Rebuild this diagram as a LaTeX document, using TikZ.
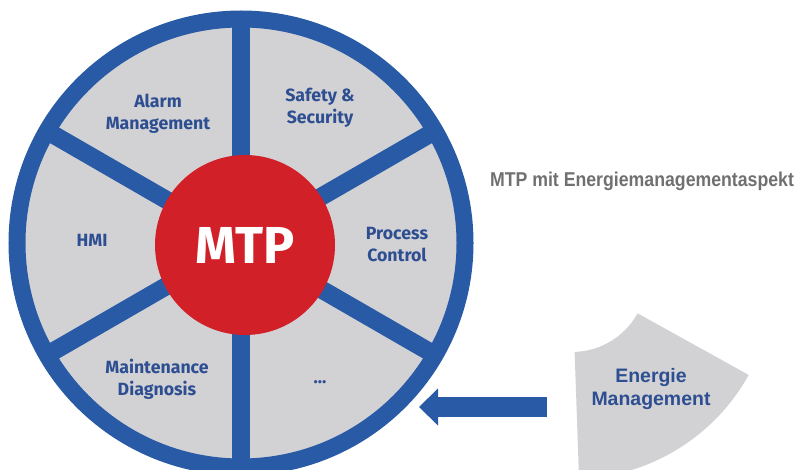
\documentclass[tikz,border=0pt]{standalone}
\usepackage{fontspec}
\usepackage{graphicx}
\setmainfont{Fira Sans}
\newfontfamily\arialfont{Liberation Sans}
\usetikzlibrary{arrows.meta}

\definecolor{mtpblue}{RGB}{40,90,165}
\definecolor{mtptext}{RGB}{45,78,145}
\definecolor{mtpred}{RGB}{210,32,40}
\definecolor{segmentgray}{RGB}{210,210,212}
\definecolor{titlegray}{RGB}{112,112,112}

\begin{document}
\begin{tikzpicture}[x=0.75pt,y=0.75pt,yscale=-1,xscale=1,
  spoke/.style={draw=mtpblue, line width=13.5pt},
  ring/.style={draw=mtpblue, line width=12.75pt},
  segtext/.style={text=mtptext, align=center, font=\bfseries\fontsize{13.3}{16.5}\selectfont},
  hub/.style={circle, fill=mtpred, text=white, inner sep=0pt, minimum size=135pt, font=\bfseries\fontsize{39}{39}\selectfont},
  pfeil/.style={draw=mtpblue, line width=15pt, -{Triangle[length=14.25pt, width=27.75pt, line width=0pt]}}]
\useasboundingbox (0,0) rectangle (798,470);
\clip (0,0) rectangle (798,470);

%Shape: Wheel
\coordinate (mitte) at (241,243);
\fill[segmentgray] (mitte) circle (224);
\foreach \a in {30,90,...,330}
  \draw[spoke] (mitte) -- ++(\a:224);
\draw[ring] (mitte) circle (224);

%Shape: Hub
\node[hub] (mtp) at (245,245) {MTP};

% Text Node
\node[segtext] (alarm) at (158,114) {Alarm\\Management};
% Text Node
\node[segtext] (safety) at (320,108) {Safety \&\\Security};
% Text Node
\node[segtext] (hmi) at (92,240) {HMI};
% Text Node
\node[segtext] (process) at (397,245) {Process\\Control};
% Text Node
\node[segtext] (maint) at (157,379) {Maintenance\\Diagnosis};
% Text Node
\node[segtext] (weitere) at (320,382) {...};

%Shape: Energy segment
\coordinate (ez) at (572,277);
\fill[segmentgray] ([shift={(29:75)}]ez) arc[start angle=29, end angle=88, radius=75]
  -- ([shift={(88:202)}]ez) arc[start angle=88, end angle=29, radius=202] -- cycle;

% Text Node
\node[text=mtptext, align=center, font=\arialfont\bfseries\fontsize{14.6}{17.3}\selectfont] (energie) at (651,389) {Energie\\Management};

% Text Node
\node[text=titlegray, font=\arialfont\bfseries\fontsize{15}{17}\selectfont] (titel) at (642,181) {\scalebox{0.885}[1]{MTP mit Energiemanagementaspekt}};

%Arrow
\coordinate (pfeilanfang) at (547,407);
\coordinate (pfeilspitze) at (419,407);
\draw[pfeil] (pfeilanfang) -- (pfeilspitze);

\end{tikzpicture}
\end{document}
